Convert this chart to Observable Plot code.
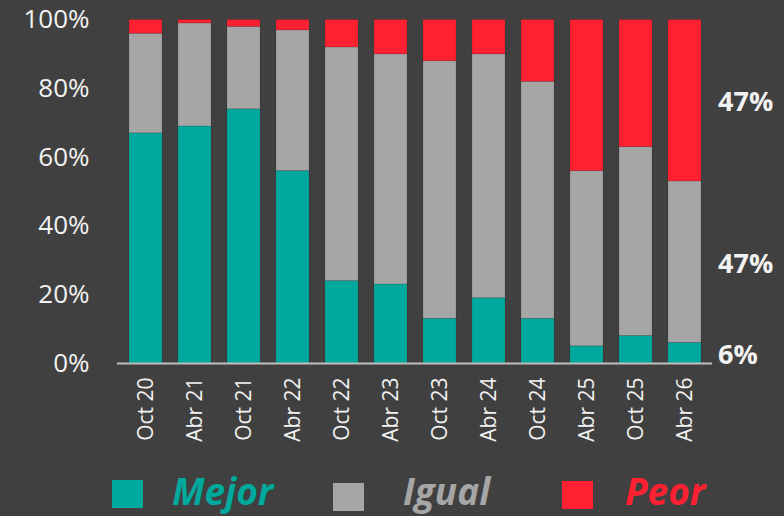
<!DOCTYPE html>
<html>
<head>
<meta charset="utf-8">
<script src="https://cdn.jsdelivr.net/npm/d3@7"></script>
<script src="https://cdn.jsdelivr.net/npm/@observablehq/plot@0.6"></script>
<style>
  html, body { margin: 0; padding: 0; background: #404040; width: 784px; height: 516px; overflow: hidden; }
  #wrap { position: relative; width: 784px; height: 516px; }
  .sq { position: absolute; width: 31px; height: 28px; }
  .lt { position: absolute; font-family: "Open Sans", sans-serif; font-weight: bold; font-style: italic; font-size: 37px; line-height: 37px; white-space: nowrap; }
</style>
</head>
<body>
<div id="wrap"></div>
<script>
const periods = ["Oct 20","Abr 21","Oct 21","Abr 22","Oct 22","Abr 23","Oct 23","Abr 24","Oct 24","Abr 25","Oct 25","Abr 26"];
const mejor = [67, 69, 74, 56, 24, 23, 13, 19, 13, 5, 8, 6];
const igual = [29, 30, 24, 41, 68, 67, 75, 71, 69, 51, 55, 47];
const peor  = [4, 1, 2, 3, 8, 10, 12, 10, 18, 44, 37, 47];
const seriesNames = ["Mejor", "Igual", "Peor"];
const seriesColors = ["#00A99D", "#A6A6A6", "#FF2131"];
const yTicks = [0, 20, 40, 60, 80, 100];

const seriesValues = [mejor, igual, peor];
const data = [];
periods.forEach((p, i) => {
  seriesNames.forEach((s, j) => data.push({period: p, serie: s, value: seriesValues[j][i]}));
});

// labels for the last period, at the middle of each stacked segment
const last = periods.length - 1;
const lastVals = seriesValues.map(v => v[last]);
const cum = d3.cumsum(lastVals);
const lastLabels = seriesNames.map((s, j) => ({
  period: periods[last],
  serie: s,
  mid: cum[j] - lastVals[j] / 2,
  text: lastVals[j] + "%"
}));

const chart = Plot.plot({
  width: 784,
  height: 465,
  marginLeft: 117,
  marginRight: 72,
  marginTop: 19.5,
  marginBottom: 102,
  style: {background: "#404040", color: "#f2f2f2", overflow: "visible"},
  x: {domain: periods, paddingInner: 0.335, paddingOuter: 0.1675, label: null},
  y: {domain: [0, 100], label: null},
  color: {domain: seriesNames, range: seriesColors},
  marks: [
    Plot.barY(data, {x: "period", y: "value", fill: "serie", stroke: "#000", strokeOpacity: 0.12, strokeWidth: 1}),
    Plot.ruleY([0], {stroke: "#bfbfbf", strokeWidth: 2}),
    Plot.axisY({ticks: yTicks, tickSize: 0, tickPadding: 28, tickFormat: d => d + "%",
      fontSize: 26, fontFamily: "Open Sans", fill: "#f2f2f2", label: null}),
    Plot.axisX({tickSize: 0, tickPadding: 14, tickRotate: -90, fontSize: 21,
      fontFamily: "Open Sans", fill: "#f2f2f2", label: null}),
    Plot.text(lastLabels, {x: "period", y: "mid", text: "text", textAnchor: "start", dx: 33, dy: 2,
      fontSize: 27, fontWeight: "bold", fontFamily: "Open Sans", fill: "#f2f2f2"})
  ]
});

const wrap = document.getElementById("wrap");
wrap.appendChild(chart);

const legendPos = [
  {sq: 112, sqTop: 480, tx: 172},
  {sq: 333, sqTop: 483, tx: 403},
  {sq: 562, sqTop: 481, tx: 625}
];
seriesNames.forEach((s, j) => {
  const sq = document.createElement("div");
  sq.className = "sq";
  sq.style.left = legendPos[j].sq + "px";
  sq.style.top = legendPos[j].sqTop + "px";
  sq.style.background = seriesColors[j];
  wrap.appendChild(sq);
  const t = document.createElement("div");
  t.className = "lt";
  t.style.left = legendPos[j].tx + "px";
  t.style.top = "472px";
  t.style.color = seriesColors[j];
  t.textContent = s;
  wrap.appendChild(t);
});
</script>
</body>
</html>
